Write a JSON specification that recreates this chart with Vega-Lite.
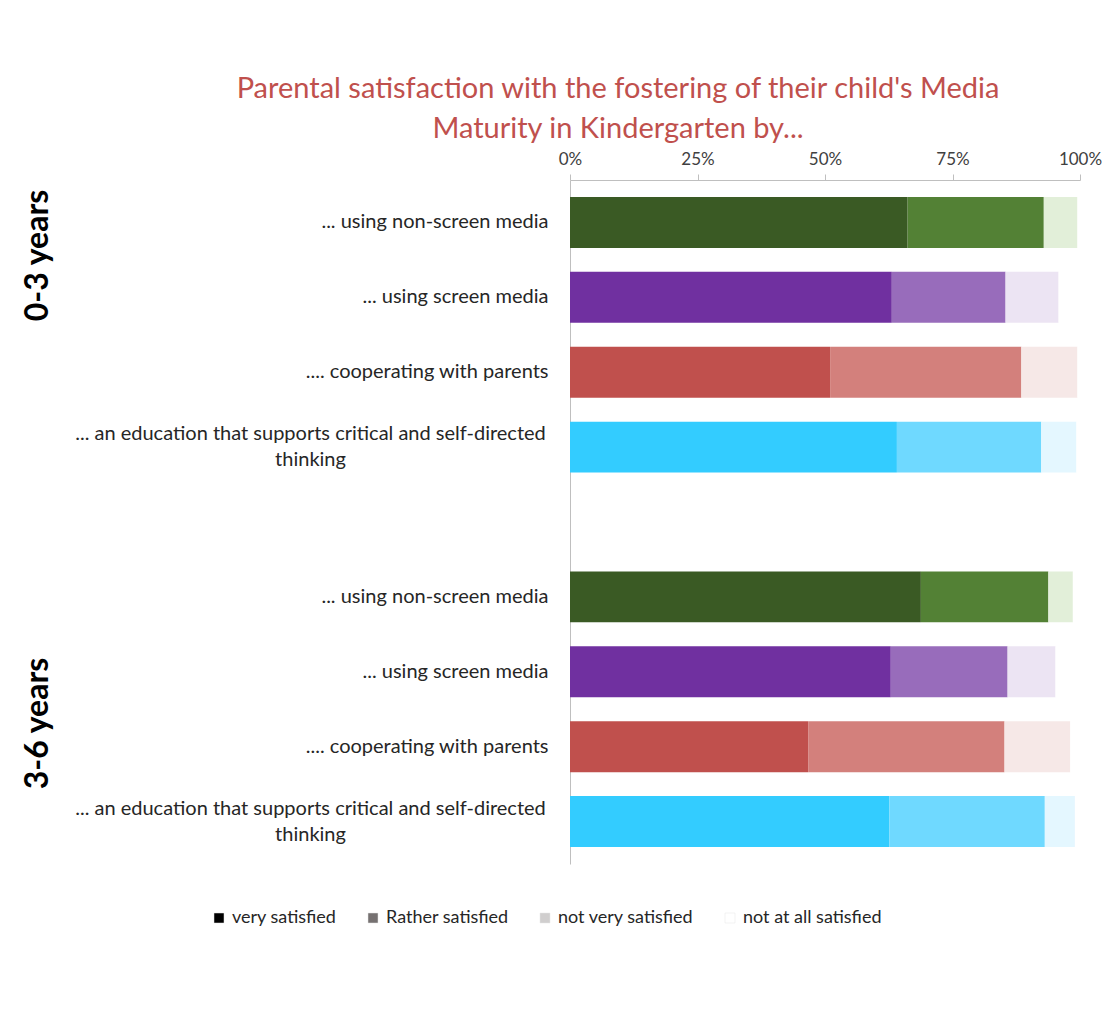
{
  "$schema": "https://vega.github.io/schema/vega-lite/v6.json",
  "autosize": "none",
  "width": 510,
  "height": 684,
  "padding": {"left": 570, "top": 180, "right": 25, "bottom": 146},
  "background": "white",
  "title": {
    "text": ["Parental satisfaction with the fostering of their child's Media", "Maturity in Kindergarten by..."],
    "color": "#C0504D", "fontSize": 29, "font": "Lato", "fontWeight": "normal",
    "lineHeight": 40, "anchor": "start", "align": "center", "frame": "group", "dx": 48, "offset": 6
  },
  "config": {"view": {"stroke": null}, "font": "Lato"},
  "data": {"values": [
    {"row": "0-3|... using non-screen media", "category": "very satisfied", "shade": "g1", "value": 66.2},
    {"row": "0-3|... using non-screen media", "category": "Rather satisfied", "shade": "g2", "value": 26.7},
    {"row": "0-3|... using non-screen media", "category": "not very satisfied", "shade": "g3", "value": 6.6},
    {"row": "0-3|... using non-screen media", "category": "not at all satisfied", "shade": "g4", "value": 0.5},
    {"row": "0-3|... using screen media", "category": "very satisfied", "shade": "p1", "value": 63.1},
    {"row": "0-3|... using screen media", "category": "Rather satisfied", "shade": "p2", "value": 22.3},
    {"row": "0-3|... using screen media", "category": "not very satisfied", "shade": "p3", "value": 10.4},
    {"row": "0-3|... using screen media", "category": "not at all satisfied", "shade": "p4", "value": 4.2},
    {"row": "0-3|.... cooperating with parents", "category": "very satisfied", "shade": "r1", "value": 51.0},
    {"row": "0-3|.... cooperating with parents", "category": "Rather satisfied", "shade": "r2", "value": 37.5},
    {"row": "0-3|.... cooperating with parents", "category": "not very satisfied", "shade": "r3", "value": 11.0},
    {"row": "0-3|.... cooperating with parents", "category": "not at all satisfied", "shade": "r4", "value": 0.5},
    {"row": "0-3|... an education that supports critical and self-directed thinking", "category": "very satisfied", "shade": "b1", "value": 64.1},
    {"row": "0-3|... an education that supports critical and self-directed thinking", "category": "Rather satisfied", "shade": "b2", "value": 28.3},
    {"row": "0-3|... an education that supports critical and self-directed thinking", "category": "not very satisfied", "shade": "b3", "value": 6.9},
    {"row": "0-3|... an education that supports critical and self-directed thinking", "category": "not at all satisfied", "shade": "b4", "value": 0.7},
    {"row": "3-6|... using non-screen media", "category": "very satisfied", "shade": "g1", "value": 68.8},
    {"row": "3-6|... using non-screen media", "category": "Rather satisfied", "shade": "g2", "value": 25.0},
    {"row": "3-6|... using non-screen media", "category": "not very satisfied", "shade": "g3", "value": 4.8},
    {"row": "3-6|... using non-screen media", "category": "not at all satisfied", "shade": "g4", "value": 1.4},
    {"row": "3-6|... using screen media", "category": "very satisfied", "shade": "p1", "value": 62.9},
    {"row": "3-6|... using screen media", "category": "Rather satisfied", "shade": "p2", "value": 22.9},
    {"row": "3-6|... using screen media", "category": "not very satisfied", "shade": "p3", "value": 9.4},
    {"row": "3-6|... using screen media", "category": "not at all satisfied", "shade": "p4", "value": 4.8},
    {"row": "3-6|.... cooperating with parents", "category": "very satisfied", "shade": "r1", "value": 46.7},
    {"row": "3-6|.... cooperating with parents", "category": "Rather satisfied", "shade": "r2", "value": 38.5},
    {"row": "3-6|.... cooperating with parents", "category": "not very satisfied", "shade": "r3", "value": 12.9},
    {"row": "3-6|.... cooperating with parents", "category": "not at all satisfied", "shade": "r4", "value": 1.9},
    {"row": "3-6|... an education that supports critical and self-directed thinking", "category": "very satisfied", "shade": "b1", "value": 62.6},
    {"row": "3-6|... an education that supports critical and self-directed thinking", "category": "Rather satisfied", "shade": "b2", "value": 30.5},
    {"row": "3-6|... an education that supports critical and self-directed thinking", "category": "not very satisfied", "shade": "b3", "value": 5.9},
    {"row": "3-6|... an education that supports critical and self-directed thinking", "category": "not at all satisfied", "shade": "b4", "value": 1.0}
  ]},
  "layer": [
    {
      "mark": {"type": "bar"},
      "encoding": {
        "y": {
          "field": "row", "type": "nominal",
          "scale": {
            "domain": [
              "0-3|... using non-screen media", "0-3|... using screen media", "0-3|.... cooperating with parents", "0-3|... an education that supports critical and self-directed thinking",
              "gap",
              "3-6|... using non-screen media", "3-6|... using screen media", "3-6|.... cooperating with parents", "3-6|... an education that supports critical and self-directed thinking"
            ],
            "paddingInner": 0.319, "paddingOuter": 0.227
          },
          "axis": {
            "orient": "left", "title": null, "ticks": false, "domainColor": "#BFBFBF", "domainWidth": 1,
            "labelFont": "Lato", "labelFontSize": 20, "labelColor": "#262626", "labelLimit": 0, "labelLineHeight": 26,
            "labelAlign": {"condition": {"test": "indexof(datum.value, 'education') >= 0", "value": "center"}, "value": "right"},
            "labelPadding": {"condition": {"test": "indexof(datum.value, 'education') >= 0", "value": 260}, "value": 22},
            "labelOffset": {"condition": {"test": "indexof(datum.value, 'education') >= 0", "value": -13}, "value": 0},
            "labelExpr": "datum.value == 'gap' ? '' : (indexof(datum.value, 'education') >= 0 ? ['... an education that supports critical and self-directed', 'thinking'] : split(datum.value, '|')[1])"
          }
        },
        "x": {
          "field": "value", "type": "quantitative", "stack": "zero",
          "scale": {"domain": [0, 100]},
          "axis": {
            "orient": "top", "title": null, "values": [0, 25, 50, 75, 100], "grid": false,
            "labelExpr": "datum.value + '%'", "labelFlush": false, "labelFontSize": 17, "labelColor": "#404040",
            "labelFont": "Lato", "tickSize": 6, "tickColor": "#BFBFBF", "domainColor": "#BFBFBF", "labelPadding": 6
          }
        },
        "color": {
          "field": "shade", "type": "nominal", "legend": null,
          "scale": {
            "domain": ["g1", "g2", "g3", "g4", "p1", "p2", "p3", "p4", "r1", "r2", "r3", "r4", "b1", "b2", "b3", "b4"],
            "range": ["#3A5A24", "#538135", "#E2EFD9", "#FFFFFF", "#7030A0", "#986CBB", "#ECE4F3", "#FFFFFF", "#C0504D", "#D3807C", "#F6E8E7", "#FFFFFF", "#33CCFF", "#6FD9FF", "#E4F7FF", "#FFFFFF"]
          }
        },
        "order": {"field": "shade", "type": "ordinal"}
      }
    },
    {
      "mark": {"type": "square", "opacity": 0, "size": 10},
      "encoding": {
        "y": {
          "field": "row", "type": "nominal",
          "scale": {
            "domain": [
              "0-3|... using non-screen media", "0-3|... using screen media", "0-3|.... cooperating with parents", "0-3|... an education that supports critical and self-directed thinking",
              "gap",
              "3-6|... using non-screen media", "3-6|... using screen media", "3-6|.... cooperating with parents", "3-6|... an education that supports critical and self-directed thinking"
            ],
            "paddingInner": 0.319, "paddingOuter": 0.227
          },
          "axis": {
            "orient": "left", "title": null, "ticks": false, "domain": false, "labelLimit": 0,
            "labelAngle": -90, "labelFont": "Lato", "labelFontSize": 32, "labelFontWeight": "bold", "labelColor": "#000000",
            "labelAlign": "center", "labelBaseline": "bottom", "labelPadding": 516,
            "labelOffset": {"condition": {"test": "indexof(datum.value, '3-6') >= 0", "value": 49}, "value": 37},
            "labelExpr": "datum.value == '0-3|... using non-screen media' ? '0-3 years' : (datum.value == '3-6|... using screen media' ? '3-6 years' : '')"
          }
        },
        "x": {"field": "value", "type": "quantitative", "stack": null},
        "fill": {
          "field": "category", "type": "nominal",
          "scale": {
            "domain": ["very satisfied", "Rather satisfied", "not very satisfied", "not at all satisfied"],
            "range": ["#000000", "#767171", "#D0CECE", "#FFFFFF"]
          },
          "legend": {
            "title": null, "orient": "none", "direction": "horizontal", "legendX": -360, "legendY": 729,
            "symbolType": "square", "symbolSize": 100, "symbolOpacity": 1, "symbolStrokeColor": "#E6E6E6", "symbolStrokeWidth": 0.5,
            "labelFont": "Lato", "labelFontSize": 18, "labelColor": "#262626", "labelOffset": 4, "columnPadding": 27, "labelLimit": 0
          }
        }
      }
    }
  ],
  "resolve": {"scale": {"y": "independent"}, "axis": {"y": "independent"}}
}
